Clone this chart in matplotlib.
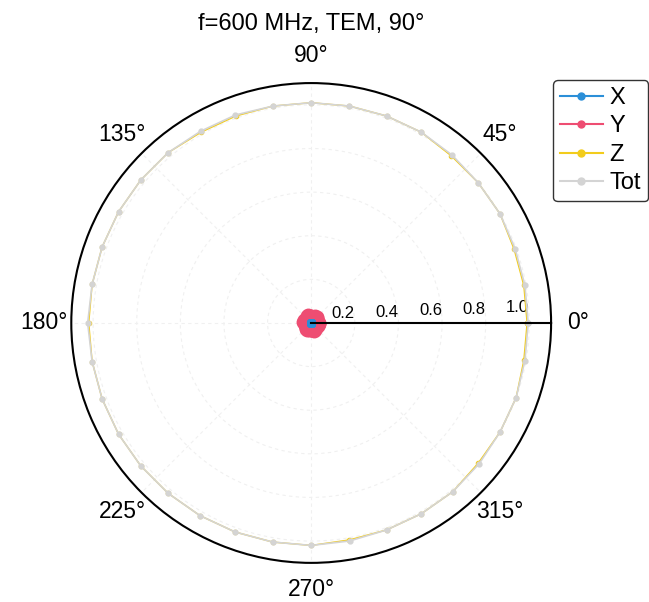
import numpy as np
import matplotlib
matplotlib.use("Agg")
import matplotlib.pyplot as plt
from matplotlib.lines import Line2D

plt.rcParams['font.family'] = ['Liberation Sans', 'DejaVu Sans']

# angles in degrees, one sample every 10 degrees
angles_deg = list(range(0, 360, 10))

# field components (normalised)
x_vals = [0.005] * 36
y_vals = [0.035, 0.030, 0.028, 0.032, 0.036, 0.038, 0.035, 0.030, 0.027, 0.030,
          0.034, 0.037, 0.036, 0.032, 0.028, 0.030, 0.034, 0.037, 0.035, 0.031,
          0.028, 0.030, 0.034, 0.037, 0.036, 0.032, 0.028, 0.030, 0.034, 0.037,
          0.036, 0.032, 0.028, 0.030, 0.034, 0.036]
z_vals = [0.99, 0.99, 0.99, 1.00, 1.00, 1.00, 1.01, 1.01, 1.01, 1.01,
          1.01, 1.01, 1.01, 1.02, 1.02, 1.02, 1.02, 1.02, 1.02, 1.02,
          1.02, 1.02, 1.02, 1.02, 1.02, 1.02, 1.02, 1.02, 1.01, 1.01,
          1.01, 1.01, 1.00, 1.00, 1.00, 0.99]
tot_vals = [0.995, 0.995, 0.995, 1.00, 1.00, 1.005, 1.01, 1.01, 1.01, 1.01,
            1.01, 1.015, 1.015, 1.02, 1.02, 1.02, 1.02, 1.02, 1.025, 1.02,
            1.02, 1.02, 1.02, 1.02, 1.02, 1.02, 1.02, 1.02, 1.015, 1.01,
            1.01, 1.01, 1.005, 1.00, 1.00, 0.995]

labels = ['X', 'Y', 'Z', 'Tot']
colors = ['#2b8fd8', '#ee4d72', '#f2cc1c', '#d4d4d4']

r_ticks = [0.2, 0.4, 0.6, 0.8, 1.0]
theta_ticks = [0, 45, 90, 135, 180, 225, 270, 315]

theta = np.deg2rad(angles_deg + [angles_deg[0]])
def closed(v):
    return v + [v[0]]

fig = plt.figure(figsize=(6.49, 6.02), dpi=100)
ax = fig.add_axes([0.108, 0.065, 0.743, 0.797], projection='polar')

ax.plot(theta, closed(x_vals), color=colors[0], marker='o', ms=4, lw=1.2, zorder=5)
ax.plot(theta, closed(y_vals), color=colors[1], marker='o', ms=9, lw=2, zorder=4)
ax.plot(theta, closed(z_vals), color=colors[2], marker='o', ms=3, lw=1.0, zorder=2)
ax.plot(theta, closed(tot_vals), color=colors[3], marker='o', ms=3.5, lw=1.2, zorder=3)

ax.set_rmax(1.1)
ax.set_rticks(r_ticks)
ax.set_yticklabels([f"{t:.1f}" for t in r_ticks], fontsize=12)
ax.set_rlabel_position(2)
for lab in ax.get_yticklabels():
    lab.set_horizontalalignment('right')
    lab.set_verticalalignment('bottom')

ax.set_thetagrids(theta_ticks, [f"{t}°" for t in theta_ticks], fontsize=16.5)
ax.tick_params(axis='x', pad=9)
ax.grid(True, color='#f0f0f0', linestyle=(0, (3, 3)), lw=0.8)
ax.spines['polar'].set_color('black')
ax.spines['polar'].set_linewidth(1.5)

# radial axis line along 0 deg
ax.plot([0, 0], [0, 1.1], color='black', lw=1.5, zorder=6)
ax.set_rmax(1.1)

ax.set_title("f=600 MHz, TEM, 90°", fontsize=17, pad=38)

# legend entries all drawn alike (thin line, small dot)
handles = [Line2D([], [], color=c, marker='o', ms=5, lw=1.5) for c in colors]
fig.legend(handles, labels, loc='upper left', bbox_to_anchor=(553 / 649, 1 - 80 / 602),
           fontsize=17, frameon=True, edgecolor='black', fancybox=True,
           handlelength=1.8, handletextpad=0.3, borderpad=0.3,
           labelspacing=0.27, borderaxespad=0)

fig.savefig("out.png", dpi=100)
